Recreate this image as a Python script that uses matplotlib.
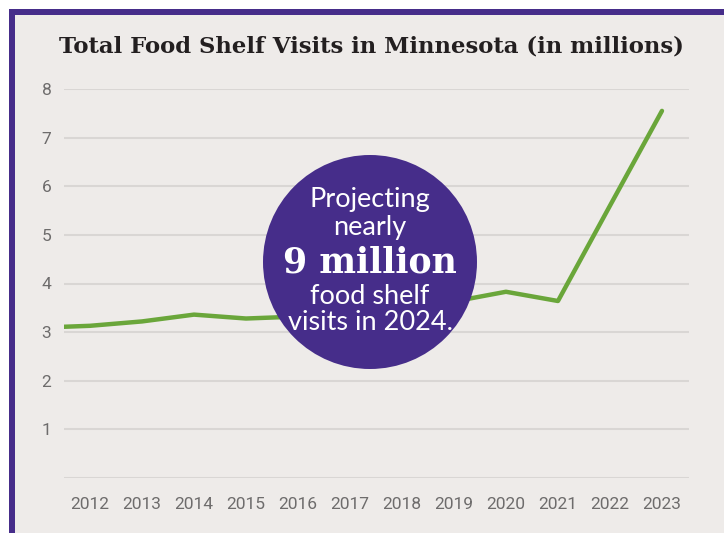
import matplotlib
matplotlib.use("Agg")
import matplotlib.pyplot as plt
from matplotlib.patches import Rectangle, Circle

# data (millions of visits); line starts half a year before 2012
years = [2011.5, 2012, 2013, 2014, 2015, 2016, 2017, 2018, 2019, 2020, 2021, 2022, 2023]
visits = [3.11, 3.13, 3.22, 3.36, 3.28, 3.32, 3.45, 3.55, 3.63, 3.83, 3.64, 5.6, 7.55]
x_ticks = list(range(2012, 2024))
y_ticks = [0, 1, 2, 3, 4, 5, 6, 7, 8]
y_labels = ["", "1", "2", "3", "4", "5", "6", "7", "8"]

title_text = "Total Food Shelf Visits in Minnesota (in millions)"
bubble_lines = ["Projecting", "nearly", "9 million", "food shelf", "visits in 2024."]

W, H = 724, 533
purple = "#462d8a"
green = "#6aa63a"
bg = "#eeebe9"
grey_txt = "#6e6c6c"

fig = plt.figure(figsize=(W / 100, H / 100), dpi=100, facecolor="white")

# purple frame (top + left) and grey card
fig.patches.append(Rectangle((9 / W, 0), 1, 1 - 9 / H, transform=fig.transFigure,
                             facecolor=purple, edgecolor="none", zorder=-3))
fig.patches.append(Rectangle((15 / W, 0), 1, 1 - 15 / H, transform=fig.transFigure,
                             facecolor=bg, edgecolor="none", zorder=-2))

ax = fig.add_axes([64 / W, 1 - 478 / H, 625 / W, 389 / H])
ax.set_facecolor("none")
ax.plot(years, visits, color=green, linewidth=3.2, solid_capstyle="round",
        solid_joinstyle="round", zorder=3)
ax.set_xlim(2011.5, 2023.52)
ax.set_ylim(0, 8)
ax.set_xticks(x_ticks)
ax.set_xticklabels([str(y) for y in x_ticks], fontfamily="Roboto", fontsize=12.5, color=grey_txt)
ax.set_yticks(y_ticks)
ax.set_yticklabels(y_labels, fontfamily="Roboto", fontsize=12.5, color=grey_txt)
ax.tick_params(axis="both", length=0)
ax.tick_params(axis="x", pad=14)
ax.tick_params(axis="y", pad=9)
ax.grid(axis="y", color="#d9d6d4", linewidth=1.5)
ax.set_axisbelow(True)
for s in ax.spines.values():
    s.set_visible(False)

# title, fitted to the reference width
title = fig.text(371 / W, 1 - 46 / H, title_text, ha="center", va="center",
                 fontfamily="DejaVu Serif", fontweight="bold", fontsize=18, color="#231f20")
fig.canvas.draw()
w = title.get_window_extent().width
title.set_fontsize(18 * 626 / w)

# callout bubble
fig.patches.append(Circle((3.70, (H - 262) / 100), 1.07, transform=fig.dpi_scale_trans,
                          facecolor=purple, edgecolor="none", zorder=5))
cx = 370 / W
line_y = [200, 227, 263, 297, 322]
for txt, yy in zip(bubble_lines, line_y):
    if txt == "9 million":
        fig.text(cx, 1 - yy / H, txt, ha="center", va="center", color="white",
                 fontfamily="DejaVu Serif", fontweight="bold", fontsize=25, zorder=6)
    else:
        fig.text(cx, 1 - yy / H, txt, ha="center", va="center", color="white",
                 fontfamily="Lato", fontsize=19.5, zorder=6)

fig.savefig("out.png", dpi=100, facecolor="white")
